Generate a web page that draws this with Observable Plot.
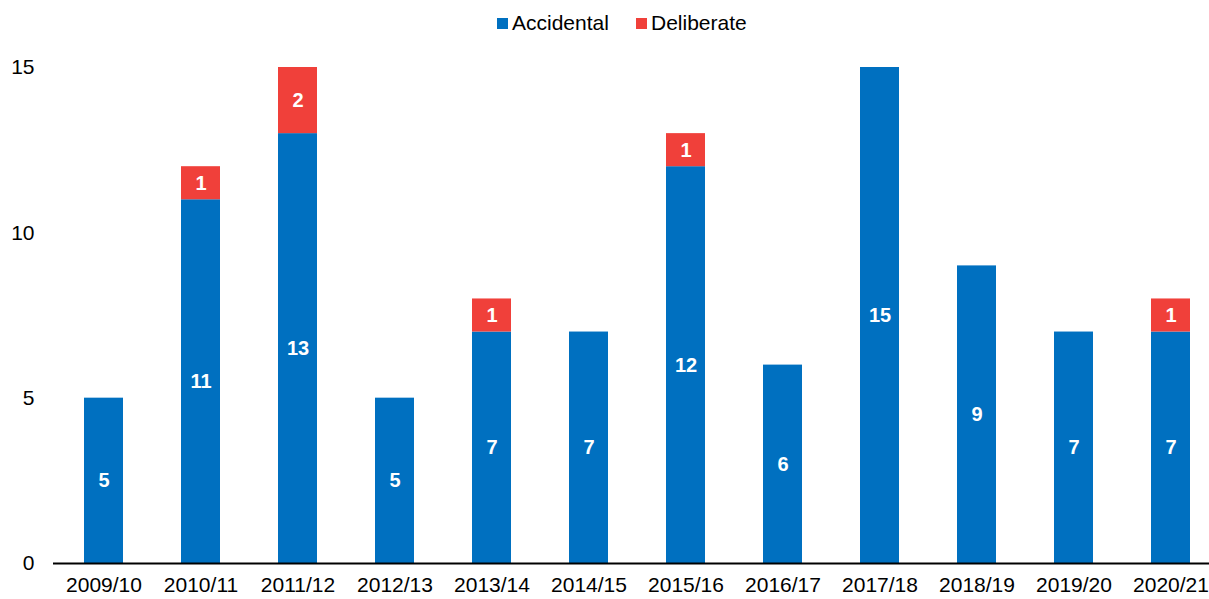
<!DOCTYPE html>
<html>
<head>
<meta charset="utf-8">
<script src="https://cdn.jsdelivr.net/npm/d3@7"></script>
<script src="https://cdn.jsdelivr.net/npm/@observablehq/plot@0.6"></script>
<style>
  html, body { margin: 0; padding: 0; background: #fff; }
  body { width: 1209px; height: 599px; overflow: hidden; font-family: "Liberation Sans", Arial, sans-serif; }
  #legend { position: relative; height: 46px; }
  .item { position: absolute; top: 11px; display: flex; align-items: center; font-size: 21px; color: #000; line-height: 24px; }
  .sw { width: 11px; height: 11px; margin-right: 4px; }
</style>
</head>
<body>
<div id="legend"></div>
<div id="chart"></div>
<script>
const years = ["2009/10","2010/11","2011/12","2012/13","2013/14","2014/15","2015/16","2016/17","2017/18","2018/19","2019/20","2020/21"];
const accidental = [5,11,13,5,7,7,12,6,15,9,7,7];
const deliberate = [0,1,2,0,1,0,1,0,0,0,0,1];
const types = ["Accidental","Deliberate"];
const colors = ["#0070C0","#F0403A"];
const yTicks = [0,5,10,15];

const data = [];
years.forEach((y, i) => {
  data.push({year: y, type: "Accidental", value: accidental[i]});
  data.push({year: y, type: "Deliberate", value: deliberate[i]});
});

// legend
const leg = document.getElementById("legend");
const lefts = [497, 636];
types.forEach((t, i) => {
  const d = document.createElement("div");
  d.className = "item";
  d.style.left = lefts[i] + "px";
  d.innerHTML = `<span class="sw" style="background:${colors[i]}"></span><span>${t}</span>`;
  leg.appendChild(d);
});

const chart = Plot.plot({
  width: 1209,
  height: 553,
  marginLeft: 53,
  marginRight: 0,
  marginTop: 21,
  marginBottom: 36,
  style: {fontFamily: "'Liberation Sans', Arial, sans-serif", fontSize: "21px", color: "#000", background: "#fff"},
  x: {domain: years, range: [53, 1221], paddingInner: 0.6, paddingOuter: 0.3, label: null},
  y: {domain: [0, 15], ticks: yTicks, label: null},
  color: {domain: types, range: colors},
  marks: [
    Plot.barY(data, Plot.stackY({x: "year", y: "value", fill: "type", order: types})),
    Plot.text(data, Plot.stackY({
      x: "year", y: "value", z: "type", order: types,
      text: d => d.value > 0 ? String(d.value) : "",
      fill: "white", fontWeight: "bold", fontSize: 20
    })),
    Plot.ruleY([0], {stroke: "#000", strokeWidth: 2}),
    Plot.axisY({ticks: yTicks, tickSize: 0, tickPadding: 19, fontSize: 21, label: null}),
    Plot.axisX({tickSize: 0, tickPadding: 14, fontSize: 21, label: null})
  ]
});
document.getElementById("chart").appendChild(chart);
</script>
</body>
</html>
